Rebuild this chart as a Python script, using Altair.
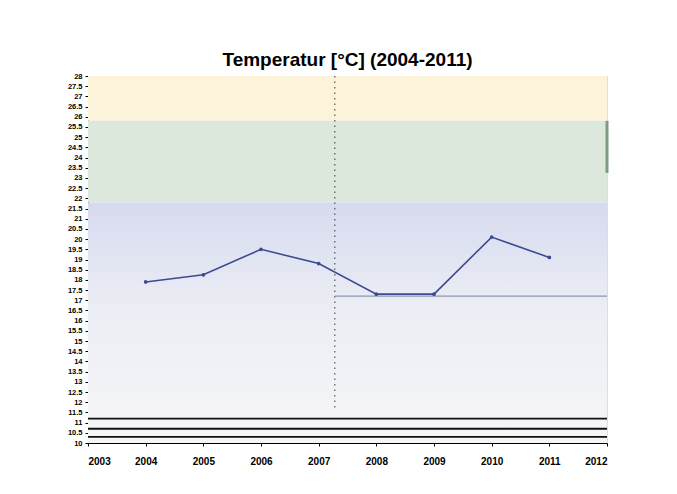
import altair as alt
import pandas as pd

# --- data ---
years = [2004, 2005, 2006, 2007, 2008, 2009, 2010, 2011]
temps = [17.9, 18.25, 19.5, 18.8, 17.3, 17.3, 20.1, 19.1]

band_lo = [25.8, 21.8]
band_hi = [28.0, 25.8]
band_col = ["#fcf3da", "#dde8dc"]
blue_lo, blue_hi = 10.0, 21.8

bottom_lines = [11.2, 10.7, 10.3]
marker_x = 2007.28          # dotted vertical marker
marker_top, marker_bottom = 28.0, 11.6
ref_level = 17.2            # grey horizontal reference
ref_x0, ref_x1 = 2007.28, 2012
green_rim_hi, green_rim_lo = 25.8, 23.25

x_ticks = list(range(2003, 2013))
y_ticks = [10 + 0.5 * i for i in range(37)]

X = alt.Scale(domain=[2003, 2012], nice=False, zero=False)
Y = alt.Scale(domain=[10, 28], nice=False, zero=False)

FONT = "Liberation Sans"
xaxis = alt.Axis(values=x_ticks, format="d", title=None, grid=False,
                 labelFontSize=10, labelFontWeight="bold", labelColor="#000",
                 labelFont=FONT, domainColor="#000",
                 tickColor="#000", tickSize=3, labelPadding=10)
yaxis = alt.Axis(values=y_ticks, format="~g", title=None, grid=False,
                 labelFontSize=7.5, labelFontWeight="bold", labelColor="#000",
                 labelFont=FONT, domainColor="#000",
                 tickColor="#000", tickSize=3, labelPadding=3,
                 labelOverlap=False, minExtent=75, maxExtent=75)

def xq(f):
    return alt.X(f, scale=X, axis=xaxis)

def yq(f):
    return alt.Y(f, scale=Y, axis=yaxis)

bands = pd.DataFrame({"lo": band_lo, "hi": band_hi, "c": band_col})
band_layer = alt.Chart(bands).mark_rect().encode(
    x=alt.value(0), x2=alt.value(519),
    y=yq("hi:Q"), y2="lo:Q",
    color=alt.Color("c:N", scale=None),
)

blue = pd.DataFrame({"lo": [blue_lo], "hi": [blue_hi]})
blue_layer = alt.Chart(blue).mark_rect(
    color=alt.LinearGradient(
        gradient="linear", x1=0, x2=0, y1=0, y2=1,
        stops=[alt.GradientStop(color="#d6daee", offset=0),
               alt.GradientStop(color="#eceef5", offset=0.45),
               alt.GradientStop(color="#f6f6f7", offset=1)])
).encode(
    x=alt.value(0), x2=alt.value(519),
    y=yq("hi:Q"), y2="lo:Q",
)

rim = pd.DataFrame({"x": [2012], "hi": [green_rim_hi], "lo": [green_rim_lo]})
rim_layer = alt.Chart(rim).mark_rule(color="#7d9c7d", strokeWidth=3).encode(
    x=xq("x:Q"), y=yq("hi:Q"), y2="lo:Q")

marker = pd.DataFrame({"x": [marker_x], "top": [marker_top], "bot": [marker_bottom]})
marker_layer = alt.Chart(marker).mark_rule(
    color="#555", strokeWidth=1.2, strokeDash=[1.5, 4]).encode(
    x=xq("x:Q"), y=yq("top:Q"), y2="bot:Q")

ref = pd.DataFrame({"x0": [ref_x0], "x1": [ref_x1], "y": [ref_level]})
ref_layer = alt.Chart(ref).mark_rule(color="#8c96aa", strokeWidth=1.2).encode(
    x=xq("x0:Q"), x2="x1:Q", y=yq("y:Q"))

bl = pd.DataFrame({"y": bottom_lines})
bl_layer = alt.Chart(bl).mark_rule(color="#111", strokeWidth=1.8).encode(
    x=alt.value(0), x2=alt.value(519), y=yq("y:Q"))

df = pd.DataFrame({"year": years, "temp": temps})
line_layer = alt.Chart(df).mark_line(
    color="#3d4a92", strokeWidth=1.6,
    point=alt.OverlayMarkDef(color="#3d4a92", size=14, filled=True)
).encode(
    x=xq("year:Q"),
    y=yq("temp:Q"),
)

chart = alt.layer(
    band_layer, blue_layer, rim_layer, marker_layer, ref_layer, bl_layer, line_layer
).properties(
    width=519, height=367,
    padding={"left": 5, "top": 43, "right": 5, "bottom": 5},
    title=alt.TitleParams("Temperatur [°C] (2004-2011)", fontSize=19,
                          fontWeight="bold", font=FONT,
                          color="#000", anchor="middle", offset=2),
).configure_view(stroke="#555", strokeWidth=1.5).configure(background="white")

chart.save("out.html", embed_options={"renderer": "svg", "actions": False})
